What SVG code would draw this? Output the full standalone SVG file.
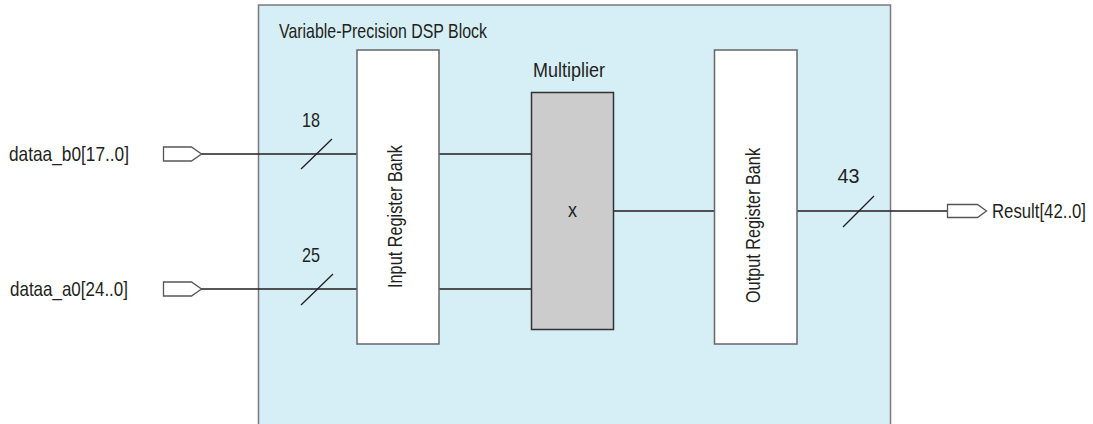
<svg xmlns="http://www.w3.org/2000/svg" width="1093" height="424" viewBox="0 0 1093 424">
<style>
text{font-family:"Liberation Sans",Arial,sans-serif;font-size:21px;fill:#231f20}
.pin{fill:#fff;stroke:#555;stroke-width:1.3}
.bank{fill:#fff;stroke:#666;stroke-width:1.5}
.wire{stroke:#231f20;stroke-width:1.3;fill:none}
</style>
<rect width="1093" height="424" fill="#fff"/>
<g id="dsp-block">
<rect x="258.5" y="5" width="632" height="430" fill="#d6eef6" stroke="#7a7a7a" stroke-width="1.5"/>
<text x="279" y="38" textLength="208" lengthAdjust="spacingAndGlyphs">Variable-Precision DSP Block</text>
</g>
<g id="connectors">
<path class="wire" d="M201,154H357M201,289H357M439,154H531M439,289H531M613,211H714M797,211H947"/>
<path class="wire" d="M301,169L332,139M301,305L333,274M843,227L874,196"/>
</g>
<g id="in-b0">
<polygon class="pin" points="163.5,147 191.5,147 201.5,154 191.5,161 163.5,161"/>
<text x="129" y="161" text-anchor="end" textLength="120" lengthAdjust="spacingAndGlyphs">dataa_b0[17..0]</text>
<text x="311" y="127" text-anchor="middle" textLength="18" lengthAdjust="spacingAndGlyphs">18</text>
</g>
<g id="in-a0">
<polygon class="pin" points="163.5,282 191.5,282 201.5,289 191.5,296 163.5,296"/>
<text x="128" y="296" text-anchor="end" textLength="118" lengthAdjust="spacingAndGlyphs">dataa_a0[24..0]</text>
<text x="311" y="262" text-anchor="middle" textLength="18" lengthAdjust="spacingAndGlyphs">25</text>
</g>
<g id="input-register-bank">
<rect class="bank" x="357" y="50" width="82" height="294"/>
<text transform="translate(402,216.5) rotate(-90)" text-anchor="middle" textLength="143" lengthAdjust="spacingAndGlyphs">Input Register Bank</text>
</g>
<g id="multiplier">
<text x="569" y="77" text-anchor="middle" textLength="72" lengthAdjust="spacingAndGlyphs">Multiplier</text>
<rect x="531.5" y="92.5" width="82" height="237" fill="#cccccc" stroke="#333" stroke-width="1.5"/>
<text x="572.5" y="217" text-anchor="middle" textLength="9" lengthAdjust="spacingAndGlyphs">x</text>
</g>
<g id="output-register-bank">
<rect class="bank" x="714.5" y="50" width="82.5" height="294"/>
<text transform="translate(760,225.5) rotate(-90)" text-anchor="middle" textLength="155" lengthAdjust="spacingAndGlyphs">Output Register Bank</text>
</g>
<g id="out-result">
<text x="848.5" y="183" text-anchor="middle" textLength="22" lengthAdjust="spacingAndGlyphs">43</text>
<polygon class="pin" points="947.5,204.5 977.5,204.5 986.5,211 977.5,217.5 947.5,217.5"/>
<text x="992" y="218" textLength="94" lengthAdjust="spacingAndGlyphs">Result[42..0]</text>
</g>
</svg>
